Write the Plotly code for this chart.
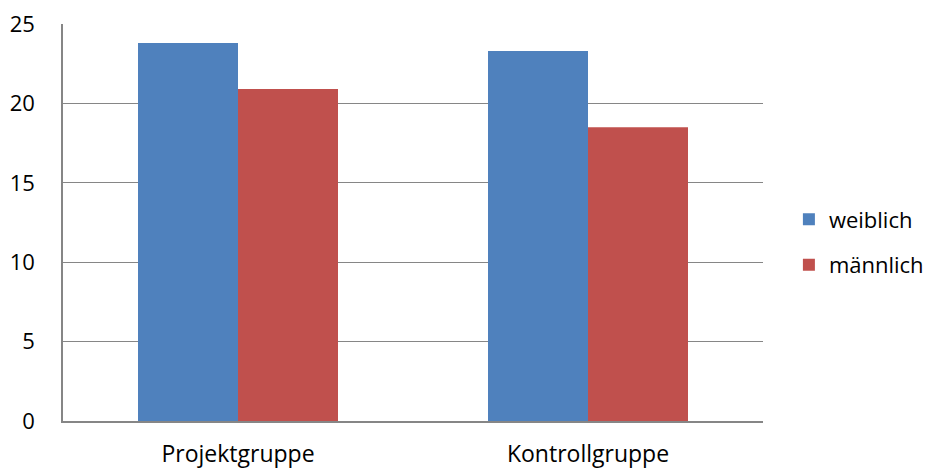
import plotly.graph_objects as go

# Gruppen und Mittelwerte nach Geschlecht
gruppen = ["Projektgruppe", "Kontrollgruppe"]
weiblich = [23.8, 23.3]
maennlich = [20.9, 18.5]
y_ticks = [0, 5, 10, 15, 20, 25]

BLAU = "#4F81BD"
ROT = "#C0504D"
GRAU = "#868686"
FONT = "Open Sans"

fig = go.Figure()
fig.add_trace(go.Bar(name="weiblich", x=gruppen, y=weiblich,
                     marker=dict(color=BLAU, line=dict(width=0)),
                     legendgroup="w"))
fig.add_trace(go.Bar(name="männlich", x=gruppen, y=maennlich,
                     marker=dict(color=ROT, line=dict(width=0)),
                     legendgroup="m"))

fig.update_layout(
    width=928, height=468,
    margin=dict(l=63, r=165, t=24, b=47, autoexpand=False),
    paper_bgcolor="white", plot_bgcolor="white",
    font=dict(family=FONT, size=22, color="black"),
    barmode="group",
    bargap=0.4286, bargroupgap=0,
    showlegend=True,
    legend=dict(
        x=1.037, xanchor="left",
        y=0.45, yanchor="middle",
        font=dict(family=FONT, size=22, color="black"),
        tracegroupgap=14,
        traceorder="grouped",
        bgcolor="rgba(0,0,0,0)",
        itemwidth=30,
    ),
    xaxis=dict(
        showline=True, linecolor=GRAU, linewidth=1.5,
        showgrid=False,
        ticks="outside", ticklen=12, tickcolor="rgba(0,0,0,0)",
        tickfont=dict(family=FONT, size=23),
        fixedrange=True,
    ),
    yaxis=dict(
        range=[0, 25], tickvals=y_ticks,
        showgrid=True, gridcolor=GRAU, gridwidth=1,
        showline=True, linecolor=GRAU, linewidth=1.5,
        zeroline=False,
        ticks="outside", ticklen=22, tickcolor="rgba(0,0,0,0)",
        tickfont=dict(family=FONT, size=22),
        fixedrange=True,
    ),
)

fig.write_html("out.html")
